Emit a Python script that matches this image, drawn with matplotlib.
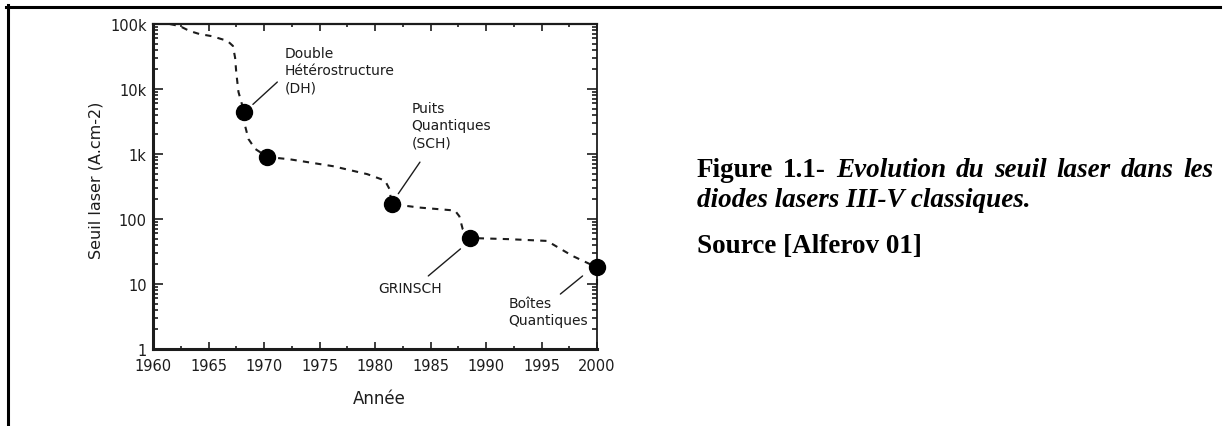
import matplotlib
matplotlib.use("Agg")
import matplotlib.pyplot as plt
from matplotlib.lines import Line2D
from matplotlib.ticker import FixedLocator, LogLocator, NullFormatter

# measured threshold points (year, A/cm2)
point_year = [1968.2, 1970.3, 1981.5, 1988.6, 2000.0]
point_value = [4500, 900, 170, 51, 18]

# dashed trend curve
curve_year = [1961.5, 1962.4, 1963.3, 1964.2, 1965.3, 1966.7, 1967.2, 1967.4, 1967.5, 1967.7,
              1968.2, 1968.3, 1968.6, 1969.2, 1970.3, 1972.3, 1976.2, 1979.3, 1980.9, 1981.3,
              1981.5, 1984.0, 1987.2, 1987.6, 1987.9, 1988.6, 1992.0, 1995.5, 1997.8, 2000.0, 2000.0]
curve_value = [100000, 93000, 78000, 70000, 65000, 55000, 46000, 30000, 18000, 9000,
               4500, 2700, 1700, 1200, 900, 830, 650, 490, 390, 290,
               170, 150, 135, 110, 70, 51, 49, 46, 27, 18, 9]

ytick_values = [1, 10, 100, 1000, 10000, 100000]
ytick_labels = ["1", "10", "100", "1k", "10k", "100k"]
xtick_years = [1960, 1965, 1970, 1975, 1980, 1985, 1990, 1995, 2000]

# label text, label anchor, leader tail, leader tip
callouts = [
    ("Double\nHétérostructure\n(DH)", (1971.9, 46000), (1971.2, 12800), (1969.0, 5800)),
    ("Puits\nQuantiques\n(SCH)", (1983.3, 6500), (1984.05, 750), (1982.1, 245)),
    ("GRINSCH", (1980.27, 8.6), (1984.8, 13.3), (1987.7, 34.7)),
    ("Boîtes\nQuantiques", (1992.0, 6.5), (1996.7, 7.0), (1998.7, 13.3)),
]

caption_line1 = [("Figure", "normal"), ("1.1-", "normal"), ("Evolution", "italic"), ("du", "italic"),
                 ("seuil", "italic"), ("laser", "italic"), ("dans", "italic"), ("les", "italic")]
caption_line2 = "diodes lasers III-V classiques."
caption_source = "Source [Alferov 01]"

W, H = 1225, 427
INK = "#1c1c1c"


def px(x, y):
    return x / W, 1 - y / H


def main():
    fig = plt.figure(figsize=(W / 100, H / 100), dpi=100)
    ax = fig.add_axes([153 / W, 1 - 350 / H, 444 / W, 325 / H])
    ax.set_yscale("log")
    ax.set_xlim(1960, 2000)
    ax.set_ylim(1, 100000)

    ax.plot(curve_year, curve_value, color=INK, lw=1.5, ls=(0, (3, 3)), clip_on=False)
    ax.plot(point_year, point_value, "o", color="black", ms=11.5, clip_on=False, zorder=5)

    for label, anchor, tail, tip in callouts:
        ax.text(anchor[0], anchor[1], label, fontsize=10, color=INK, ha="left",
                va="top" if "\n" in label else "center", linespacing=1.3)
        ax.annotate("", xy=tip, xytext=tail,
                    arrowprops=dict(arrowstyle="-", color=INK, lw=1.0, shrinkA=0, shrinkB=0))

    ax.yaxis.set_major_locator(FixedLocator(ytick_values))
    ax.set_yticklabels(ytick_labels)
    ax.yaxis.set_minor_locator(LogLocator(base=10, subs=range(2, 10)))
    ax.yaxis.set_minor_formatter(NullFormatter())
    ax.set_xticks(xtick_years)
    ax.set_xticks([y + 2.5 for y in xtick_years[:-1]], minor=True)

    ax.tick_params(which="both", direction="in", top=True, right=True, colors=INK, width=1.2)
    ax.tick_params(axis="y", which="major", length=7, pad=4.5, labelsize=10.5)
    ax.tick_params(axis="y", which="minor", length=3.5)
    ax.tick_params(axis="x", which="major", length=5, pad=6.5, labelsize=10.5)
    ax.tick_params(axis="x", which="minor", length=2.5)

    for side, lw in [("left", 2.2), ("bottom", 2.2), ("top", 1.6), ("right", 1.3)]:
        ax.spines[side].set_linewidth(lw)
        ax.spines[side].set_color(INK)

    ax.set_ylabel("Seuil laser (A.cm-2)", fontsize=11.5, color=INK)
    ax.yaxis.set_label_coords(-0.1126, 0.523)
    ax.set_xlabel("Année", fontsize=12, color=INK)
    ax.xaxis.set_label_coords(0.509, -0.123)

    # page frame of the scanned figure
    fig.add_artist(Line2D([px(6, 0)[0], px(1220, 0)[0]], [px(0, 7.5)[1]] * 2, color="black", lw=2.2))
    fig.add_artist(Line2D([px(7.5, 0)[0]] * 2, [px(0, 6)[1], 0], color="black", lw=2.2))

    # caption, first line justified between x=697 and x=1213
    serif = "Liberation Serif"
    fig.canvas.draw()
    rend = fig.canvas.get_renderer()
    words = []
    for word, style in caption_line1:
        t = fig.text(0, px(0, 177)[1], word, fontsize=19.5, family=serif, weight="bold",
                     style=style, va="baseline", ha="left", color="black")
        words.append(t)
    widths = [t.get_window_extent(rend).width for t in words]
    gap = (1213 - 697 - sum(widths)) / (len(words) - 1)
    x = 697
    for t, w in zip(words, widths):
        t.set_x(x / W)
        x += w + gap
    fig.text(*px(697, 207), caption_line2, fontsize=19.5, family=serif, weight="bold",
             style="italic", va="baseline", ha="left", color="black")
    fig.text(*px(697, 253), caption_source, fontsize=19.5, family=serif, weight="bold",
             va="baseline", ha="left", color="black")

    fig.savefig("out.png", dpi=100)


if __name__ == "__main__":
    main()
